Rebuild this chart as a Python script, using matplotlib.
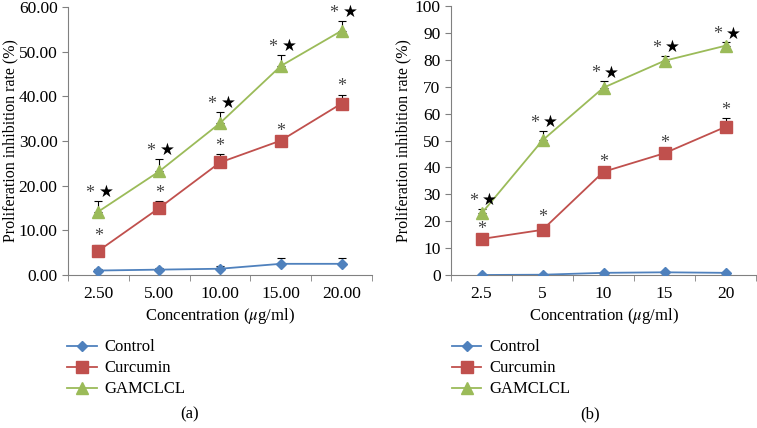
import matplotlib
matplotlib.use("Agg")
import matplotlib.pyplot as plt
import numpy as np

plt.rcParams['font.family'] = ['Liberation Serif', 'DejaVu Serif']
plt.rcParams['mathtext.fontset'] = 'stix'

# panel (a)
conc_a = ["2.50", "5.00", "10.00", "15.00", "20.00"]
control_a = [1.0, 1.2, 1.4, 2.5, 2.5]
control_a_err = [0.3, 0.3, 0.6, 1.3, 1.3]
curcumin_a = [5.4, 15.0, 25.2, 30.1, 38.4]
curcumin_a_err = [1.4, 1.6, 1.9, 0.4, 2.0]
gamclcl_a = [14.2, 23.2, 34.0, 46.8, 54.7]
gamclcl_a_err = [2.3, 2.7, 2.4, 2.4, 2.1]

# panel (b)
conc_b = ["2.5", "5", "10", "15", "20"]
control_b = [0.0, 0.1, 0.8, 1.0, 0.8]
control_b_err = [0.2, 0.2, 0.3, 0.3, 0.3]
curcumin_b = [13.4, 16.8, 38.4, 45.3, 55.1]
curcumin_b_err = [0.8, 1.8, 0.6, 0.6, 3.2]
gamclcl_b = [22.9, 50.1, 69.7, 79.7, 85.3]
gamclcl_b_err = [1.6, 3.5, 2.3, 1.7, 1.2]

blue = '#4F81BD'
red = '#C0504D'
green = '#9BBB59'
spine_col = '#808080'
fs = 12


def draw(ax, labels, ctrl, ctrl_e, cur, cur_e, gam, gam_e, ymax, ystep, fmt, ylab_x):
    x = np.arange(len(labels))
    zeros = np.zeros(len(labels))
    for y, e in [(ctrl, ctrl_e), (cur, cur_e), (gam, gam_e)]:
        ax.errorbar(x, y, yerr=[zeros, e], fmt='none', ecolor='black',
                    elinewidth=0.8, capsize=3, capthick=0.8, zorder=2)
    ax.plot(x, ctrl, color=blue, marker='D', markersize=5, lw=1.3,
            label='Control', zorder=3)
    ax.plot(x, cur, color=red, marker='s', markersize=8, lw=1.3,
            label='Curcumin', zorder=3)
    ax.plot(x, gam, color=green, marker='^', markersize=8, lw=1.3,
            label='GAMCLCL', zorder=3)

    # significance marks
    for i in range(len(x)):
        top = cur[i] + cur_e[i]
        ax.annotate('*', (x[i], top), xytext=(0, 5.5), textcoords='offset points',
                    ha='center', va='center', fontsize=13, color='#444444')
        top = gam[i] + gam_e[i]
        ax.annotate('*', (x[i], top), xytext=(-6, 5.5), textcoords='offset points',
                    ha='center', va='center', fontsize=13, color='#444444')
        ax.annotate('\u2605', (x[i], top), xytext=(6, 6.5), textcoords='offset points',
                    ha='center', va='center', fontsize=12, color='black',
                    family=['DejaVu Sans'])

    ax.set_xlim(-0.5, len(x) - 0.5)
    ax.set_ylim(0, ymax)
    ticks = np.arange(0, ymax + 0.1, ystep)
    ax.set_yticks(ticks)
    ax.set_yticklabels([fmt.format(v) for v in ticks])
    ax.set_xticks(x)
    ax.set_xticklabels(labels)
    ax.set_xticks(np.arange(-0.5, len(x), 1), minor=True)
    ax.tick_params(axis='x', which='major', length=0, pad=8, labelsize=12.5)
    ax.tick_params(axis='x', which='minor', length=4, color=spine_col, direction='out')
    ax.tick_params(axis='y', length=4, color=spine_col, labelsize=12.5)
    for s in ['top', 'right']:
        ax.spines[s].set_visible(False)
    for s in ['left', 'bottom']:
        ax.spines[s].set_color(spine_col)
    ax.set_xlabel(r'Concentration ($\mu$g/ml)', fontsize=fs, labelpad=3)
    ax.set_ylabel('Proliferation inhibition rate (%)', fontsize=11.5)
    ax.yaxis.set_label_coords(ylab_x, 0.5)


fig = plt.figure(figsize=(7.57, 4.28), dpi=100)
ax1 = fig.add_axes([0.0898, 0.3575, 0.4016, 0.626])
ax2 = fig.add_axes([0.5958, 0.3575, 0.4029, 0.628])

draw(ax1, conc_a, control_a, control_a_err, curcumin_a, curcumin_a_err,
     gamclcl_a, gamclcl_a_err, 60, 10, '{:.2f}', -0.163)
draw(ax2, conc_b, control_b, control_b_err, curcumin_b, curcumin_b_err,
     gamclcl_b, gamclcl_b_err, 100, 10, '{:.0f}', -0.13)

for ax, xl in [(ax1, 0.089), (ax2, 0.597)]:
    h, l = ax.get_legend_handles_labels()
    fig.legend(h, l, loc='upper left', bbox_to_anchor=(xl, 0.207), frameon=False,
               prop={'family': ['Liberation Serif'], 'size': fs},
               handlelength=1.75, labelspacing=0.3,
               handletextpad=0.5, borderaxespad=0, borderpad=0)

fig.text(0.251, 0.022, '(a)', ha='center', fontsize=fs)
fig.text(0.78, 0.022, '(b)', ha='center', fontsize=fs)

fig.savefig('out.png', dpi=100)
